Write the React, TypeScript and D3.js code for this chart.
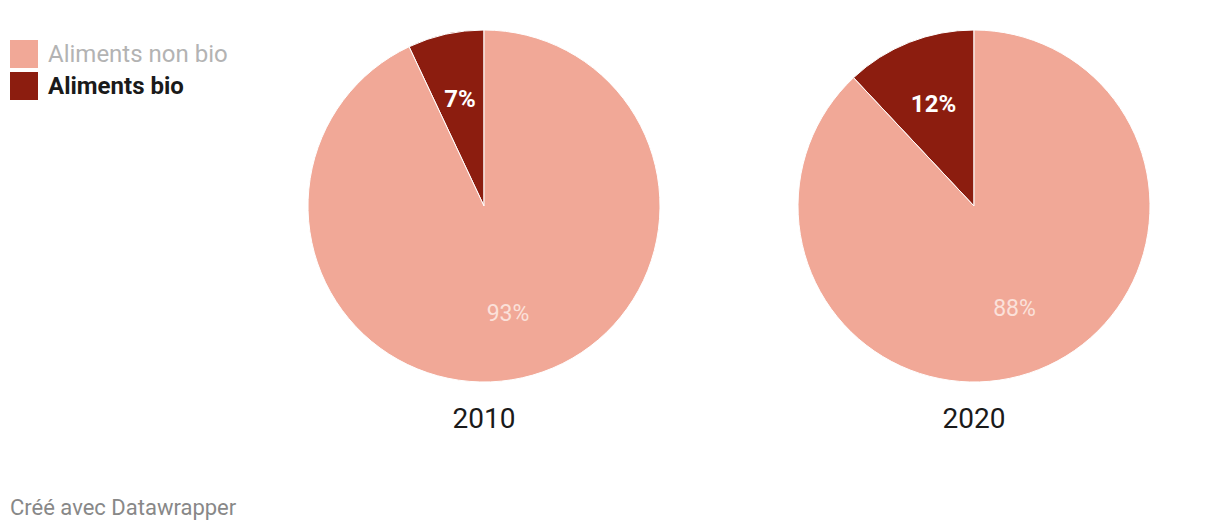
import React from "react";
import * as d3 from "d3";

const years = ["2010", "2020"];
const categories = ["Aliments bio", "Aliments non bio"];
const bioShare = [7, 12];
const nonBioShare = [93, 88];
const colors = ["#8c1d0f", "#f1a897"];
const legendOrder = ["Aliments non bio", "Aliments bio"];

export default function App() {
  const W = 1220, H = 530;
  const R = 176;
  const centersX = d3.scaleOrdinal<string, number>().domain(years).range([484, 974]);
  const cy = 206;
  const pie = d3
    .pie<number>()
    .sort(null)
    .value((d) => d)
    .startAngle(0)
    .endAngle(-2 * Math.PI);
  const arc = d3.arc<d3.PieArcDatum<number>>().innerRadius(0).outerRadius(R);
  const labelArc = d3.arc<d3.PieArcDatum<number>>().innerRadius(R * 0.625).outerRadius(R * 0.625);
  const color = d3.scaleOrdinal<string, string>().domain(categories).range(colors);

  return (
    <svg
      width={W}
      height={H}
      style={{ position: "absolute", left: 0, top: 0, fontFamily: "Roboto, sans-serif" }}
    >
      <rect width={W} height={H} fill="#fff" />
      {legendOrder.map((c, i) => (
        <g key={c} transform={`translate(10, ${40 + i * 32})`}>
          <rect width={28} height={28} fill={color(c)} />
          <text
            x={38}
            y={14}
            dominantBaseline="central"
            fontSize={24}
            fontWeight={c === "Aliments bio" ? 700 : 400}
            fill={c === "Aliments bio" ? "#1a1a1a" : "#b3b3b3"}
          >
            {c}
          </text>
        </g>
      ))}
      {years.map((y, yi) => {
        const vals = [bioShare[yi], nonBioShare[yi]];
        const arcs = pie(vals);
        return (
          <g key={y} transform={`translate(${centersX(y)}, ${cy})`}>
            {arcs.map((a, i) => (
              <path key={i} d={arc(a) || ""} fill={color(categories[i])} stroke="#fff" strokeWidth={1} />
            ))}
            {arcs.map((a, i) => {
              const [lx, ly] = labelArc.centroid(a);
              return (
                <text
                  key={"l" + i}
                  x={lx}
                  y={ly}
                  textAnchor="middle"
                  dominantBaseline="central"
                  fontSize={i === 0 ? 24 : 23}
                  fontWeight={i === 0 ? 700 : 400}
                  fill={i === 0 ? "#ffffff" : "#fbe1da"}
                >
                  {vals[i]}%
                </text>
              );
            })}
            <text x={0} y={212} textAnchor="middle" dominantBaseline="central" fontSize={28} fill="#1a1a1a">
              {y}
            </text>
          </g>
        );
      })}
      <text x={10} y={507} dominantBaseline="central" fontSize={22} fill="#888">
        Créé avec Datawrapper
      </text>
    </svg>
  );
}
